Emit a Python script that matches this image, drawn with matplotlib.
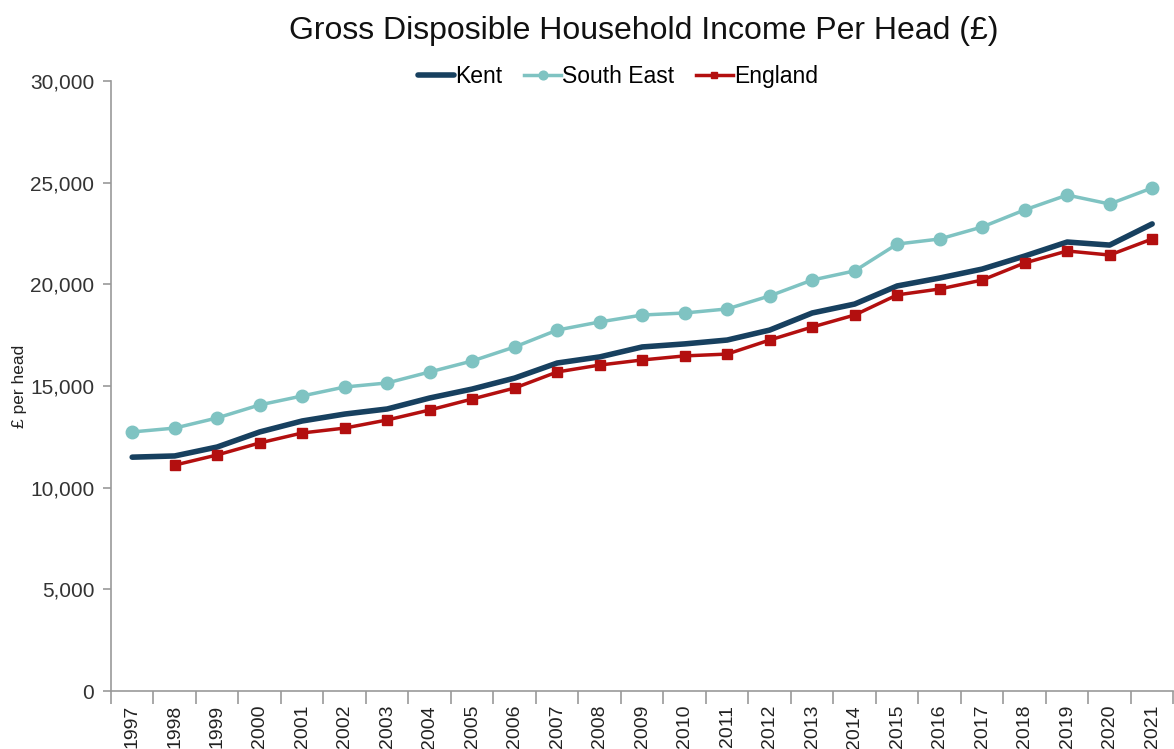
import matplotlib
matplotlib.use("Agg")
import matplotlib.pyplot as plt
import numpy as np
from matplotlib.ticker import FuncFormatter, FixedLocator

years = [str(y) for y in range(1997, 2022)]
kent = [11500, 11560, 12000, 12740, 13280, 13620, 13870, 14410, 14850, 15390,
        16130, 16430, 16920, 17070, 17260, 17750, 18590, 19030, 19920, 20310,
        20750, 21390, 22080, 21930, 22970]
south_east = [12740, 12930, 13430, 14070, 14510, 14950, 15150, 15690, 16230, 16920,
              17750, 18150, 18490, 18590, 18790, 19430, 20210, 20660, 21980, 22230,
              22820, 23660, 24390, 23950, 24740]
england = [None, 11110, 11610, 12200, 12690, 12930, 13330, 13820, 14360, 14900,
           15690, 16030, 16280, 16480, 16570, 17260, 17900, 18490, 19480, 19770,
           20210, 21050, 21640, 21440, 22230]

plt.rcParams['font.family'] = ['Liberation Sans', 'DejaVu Sans']

fig = plt.figure(figsize=(11.74, 7.49), dpi=100)
ax = fig.add_axes([0.0945, 0.0774, 0.905, 0.8145])

x = np.arange(len(years))
eng = np.array([np.nan if v is None else v for v in england], dtype=float)

ax.plot(x, kent, color='#17405f', lw=4, solid_capstyle='round', label='Kent', zorder=3)
ax.plot(x, south_east, color='#7fc3c2', lw=2.5, marker='o', ms=9, label='South East', zorder=2)
ax.plot(x, eng, color='#b30f0f', lw=2.5, marker='s', ms=7, label='England', zorder=4)

ax.set_xlim(-0.5, len(years) - 0.5)
ax.set_ylim(0, 30000)
ax.set_yticks(range(0, 30001, 5000))
ax.yaxis.set_major_formatter(FuncFormatter(lambda v, p: f"{int(v):,}"))

ax.set_xticks(x)
ax.set_xticklabels(years, rotation=90, fontsize=14, color='#222222')
ax.tick_params(axis='x', which='major', length=0, pad=10)
ax.xaxis.set_minor_locator(FixedLocator(np.arange(-0.5, len(years), 1.0)))
ax.tick_params(axis='x', which='minor', length=9, color='#999999', width=1.2)
ax.tick_params(axis='y', length=6, color='#999999', width=1.2, labelsize=15,
               labelcolor='#333333', pad=6)

for side in ['top', 'right']:
    ax.spines[side].set_visible(False)
for side in ['left', 'bottom']:
    ax.spines[side].set_color('#999999')
    ax.spines[side].set_linewidth(1.2)

ax.set_ylabel('£ per head', fontsize=12.5, color='#222222', labelpad=2)

fig.text(0.548, 0.958, 'Gross Disposible Household Income Per Head (£)',
         ha='center', va='center', fontsize=23, color='#111111')

leg = ax.legend(loc='center', bbox_to_anchor=(0.477, 1.007), ncol=3, frameon=False,
                fontsize=16.5, handlelength=1.6, handletextpad=0.05, columnspacing=0.95,
                markerscale=0.7)

fig.savefig('out.png', dpi=100)
